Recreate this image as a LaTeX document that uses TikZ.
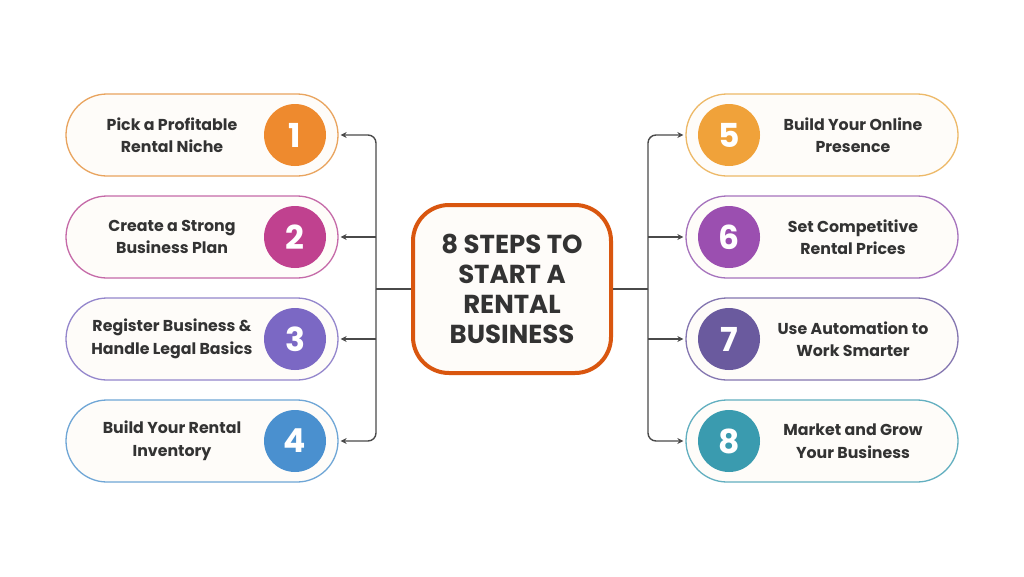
\documentclass[tikz,border=0pt]{standalone}
\usepackage{fontspec}
\setmainfont{Poppins}
\usetikzlibrary{arrows.meta}
\definecolor{txt}{HTML}{333333}
\definecolor{ln}{HTML}{4A4A4A}
\definecolor{cA}{HTML}{EE8A2E}\definecolor{oA}{HTML}{E9A45E}
\definecolor{cB}{HTML}{C0418F}\definecolor{oB}{HTML}{C56AA8}
\definecolor{cC}{HTML}{7B68C4}\definecolor{oC}{HTML}{9486CC}
\definecolor{cD}{HTML}{4A90CF}\definecolor{oD}{HTML}{6FA6D6}
\definecolor{cE}{HTML}{F0A23A}\definecolor{oE}{HTML}{EDB968}
\definecolor{cF}{HTML}{9B4FB0}\definecolor{oF}{HTML}{A673BD}
\definecolor{cG}{HTML}{6A5A9E}\definecolor{oG}{HTML}{8476B0}
\definecolor{cH}{HTML}{3A9BAF}\definecolor{oH}{HTML}{62AFC0}
\definecolor{pillfill}{HTML}{FEFCF9}
\definecolor{mainor}{HTML}{D9560F}
\tikzset{
  pill/.style={draw=#1, line width=1.3pt, fill=pillfill, rounded corners=41pt, minimum width=272pt, minimum height=82pt},
  num/.style={circle, fill=#1, minimum size=62pt, inner sep=0pt, text=white, font=\fontsize{33}{33}\selectfont\bfseries},
  lab/.style={text=txt, align=center, font=\fontsize{15.8}{22.5}\selectfont\bfseries},
  conn/.style={draw=ln, line width=1.4pt, rounded corners=8pt},
  arr/.style={conn, -{Stealth[length=6pt,width=6pt]}}
}
\begin{document}
\begin{tikzpicture}[x=1pt,y=-1pt]
\useasboundingbox (0,0) rectangle (1024,576);
\fill[white] (0,0) rectangle (1024,576);
% central box
\node[draw=mainor, line width=4pt, fill=pillfill, rounded corners=36pt, minimum width=198pt, minimum height=168pt, text=txt, align=center, font=\fontsize{26}{30}\selectfont\bfseries] (c) at (512,289) {8 STEPS TO\\START A\\RENTAL\\BUSINESS};
% left pills
\foreach \i/\y/\c/\o/\t in {1/135/cA/oA/{Pick a Profitable\\Rental Niche}, 2/237/cB/oB/{Create a Strong\\Business Plan}, 3/339/cC/oC/{Register Business \&\\Handle Legal Basics}, 4/441/cD/oD/{Build Your Rental\\Inventory}}{
  \node[pill=\o] (p\i) at (202,\y) {};
  \node[num=\c] (n\i) at (295,\y) {\i};
  \node[lab] (t\i) at (172,\y) {\t};
}
\foreach \i/\y/\c/\o/\t in {5/135/cE/oE/{Build Your Online\\Presence}, 6/237/cF/oF/{Set Competitive\\Rental Prices}, 7/339/cG/oG/{Use Automation to\\Work Smarter}, 8/441/cH/oH/{Market and Grow\\Your Business}}{
  \node[pill=\o] (p\i) at (822,\y) {};
  \node[num=\c] (n\i) at (729,\y) {\i};
  \node[lab] (t\i) at (853,\y) {\t};
}
\coordinate (L) at (376,289);
\coordinate (R) at (648,289);
\coordinate (L2) at (376,237);
\coordinate (L3) at (376,339);
\coordinate (R6) at (648,237);
\coordinate (R7) at (648,339);
\draw[conn] (c.west) -- (L);
\draw[conn] (c.east) -- (R);
\draw[arr] (L) |- ([xshift=2pt]p1.east);
\draw[arr] (L) |- ([xshift=2pt]p4.east);
\draw[arr] (L2) -- ([xshift=2pt]p2.east);
\draw[arr] (L3) -- ([xshift=2pt]p3.east);
\draw[arr] (R) |- ([xshift=-2pt]p5.west);
\draw[arr] (R) |- ([xshift=-2pt]p8.west);
\draw[arr] (R6) -- ([xshift=-2pt]p6.west);
\draw[arr] (R7) -- ([xshift=-2pt]p7.west);
\end{tikzpicture}
\end{document}
